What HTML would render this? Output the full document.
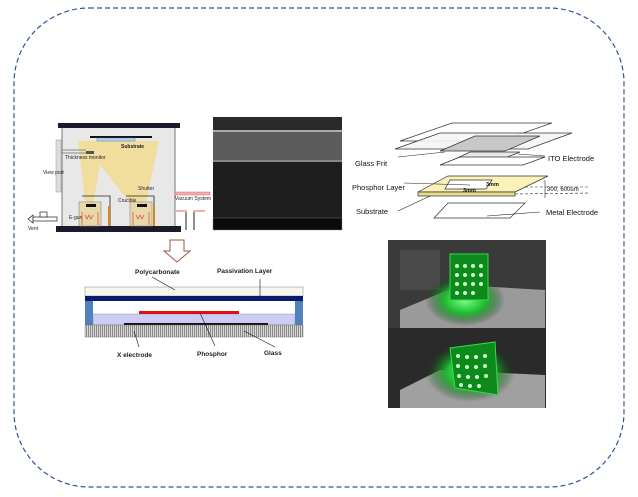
<!DOCTYPE html>
<html><head><meta charset="utf-8"><style>
html,body{margin:0;padding:0;background:#fff;width:638px;height:497px;overflow:hidden}
svg text{font-family:"Liberation Sans",sans-serif}
</style></head><body>
<svg width="638" height="497" viewBox="0 0 638 497" xmlns="http://www.w3.org/2000/svg">
<defs>
<radialGradient id="gl" cx="0.5" cy="0.5" r="0.5"><stop offset="0" stop-color="#7dff8a"/><stop offset="0.5" stop-color="#1fbf30"/><stop offset="1" stop-color="#0c3a12" stop-opacity="0"/></radialGradient>
<pattern id="hatch" width="2" height="4" patternUnits="userSpaceOnUse"><rect width="2" height="4" fill="#d8d8d8"/><rect width="1" height="4" fill="#8a8a8a"/></pattern>
</defs>
<rect x="14" y="8" width="610" height="479" rx="75" ry="75" fill="none" stroke="#2f5597" stroke-width="1.2" stroke-dasharray="5,3"/>

<!-- chamber -->
<rect x="62" y="127" width="113" height="101" fill="#e8e8e8" stroke="#777" stroke-width="1"/>
<rect x="58" y="123" width="122" height="5" fill="#1a1a2a"/>
<rect x="56" y="226" width="125" height="6" fill="#1a1a2a"/>
<polygon points="78,141 159,141 144,212 137,212 100,165 92,212 86,212" fill="#f3d98a" opacity="0.8"/>
<rect x="90" y="136" width="62" height="2" fill="#111"/>
<rect x="97" y="138" width="38" height="3" fill="#bcd4f0" stroke="#4670b0" stroke-width="0.5"/>
<rect x="86" y="151" width="8" height="3" fill="#555"/>
<line x1="60" y1="150" x2="86" y2="150" stroke="#888"/><line x1="60" y1="153" x2="86" y2="153" stroke="#888"/>
<rect x="56" y="140" width="5" height="52" fill="#ddd" stroke="#999" stroke-width="0.5"/>
<rect x="79" y="202" width="22" height="24" fill="#e9d9a8" stroke="#888" stroke-width="0.6"/>
<rect x="86" y="204" width="10" height="3" fill="#111"/>
<rect x="130" y="202" width="22" height="24" fill="#e9d9a8" stroke="#888" stroke-width="0.6"/>
<rect x="137" y="204" width="10" height="3" fill="#111"/>
<path d="M82 212 v13 M98 212 v13 M133 212 v13 M149 212 v13" stroke="#e04040" stroke-width="0.7"/>
<path d="M85 215 l2 4 l2-4 l2 4 l2-4 M136 215 l2 4 l2-4 l2 4 l2-4" stroke="#e04040" fill="none" stroke-width="0.7"/>
<path d="M82 196 h28 v30 M126 196 h28 v30" stroke="#222" fill="none" stroke-width="0.8"/>
<rect x="108" y="206" width="2" height="20" fill="#d38a20"/><rect x="153" y="206" width="2" height="20" fill="#d38a20"/>
<rect x="175" y="192" width="35" height="3" fill="#f4b0b0" stroke="#c44" stroke-width="0.4"/>
<rect x="175" y="210" width="12" height="2" fill="#f4b0b0"/><rect x="193" y="210" width="12" height="2" fill="#f4b0b0"/>
<line x1="186" y1="212" x2="186" y2="230" stroke="#222"/><line x1="194" y1="212" x2="194" y2="230" stroke="#222"/>
<path d="M28 219 l5 -4 v8 z" fill="#fff" stroke="#222" stroke-width="0.7"/>
<rect x="33" y="217" width="24" height="4" fill="#fff" stroke="#222" stroke-width="0.7"/>
<rect x="40" y="212" width="7" height="5" fill="#fff" stroke="#222" stroke-width="0.7"/>
<g font-size="5" fill="#222">
<text x="121" y="148" font-weight="bold">Substrate</text>
<text x="65" y="159">Thickness monitor</text>
<text x="43" y="174">View port</text>
<text x="138" y="190">Shutter</text>
<text x="118" y="202">Crucible</text>
<text x="69" y="219">E-gun</text>
<text x="175" y="200">Vacuum System</text>
<text x="28" y="230">Vent</text>
</g>
<!-- SEM -->
<rect x="213" y="117" width="129" height="113" fill="#1c1c1c"/>
<rect x="213" y="117" width="129" height="13" fill="#2a2a2a"/>
<rect x="213" y="130" width="129" height="30" fill="#5c5c5c"/>
<rect x="213" y="130" width="129" height="2" fill="#aaa"/>
<rect x="213" y="160" width="129" height="2" fill="#888"/>
<rect x="213" y="162" width="129" height="55" fill="#1e1e1e"/>
<rect x="213" y="218" width="129" height="12" fill="#0a0a0a" stroke="#888" stroke-width="0.4"/>

<!-- arrow -->
<polygon points="170,240 184,240 184,251 190,251 177,262 164,251 170,251" fill="#fff" stroke="#a05a40" stroke-width="1"/>
<g font-size="6.5" font-weight="bold" fill="#222">
<text x="135" y="274">Polycarbonate</text>
<text x="217" y="273">Passivation Layer</text>
<text x="117" y="357">X electrode</text>
<text x="197" y="356">Phosphor</text>
<text x="264" y="355">Glass</text>
</g>
<rect x="85" y="287" width="218" height="9" fill="#f6f6ee" stroke="#888" stroke-width="0.5"/>
<rect x="85" y="296" width="218" height="5" fill="#0a1a6e"/>
<rect x="85" y="301" width="8" height="24" fill="#4f81bd"/>
<rect x="295" y="301" width="8" height="24" fill="#4f81bd"/>
<rect x="93" y="314" width="202" height="11" fill="#ccccf5" stroke="#888" stroke-width="0.4"/>
<rect x="139" y="311" width="100" height="3" fill="#e01010"/>
<rect x="124" y="323" width="144" height="2" fill="#111"/>
<rect x="85" y="325" width="218" height="12" fill="url(#hatch)" stroke="#666" stroke-width="0.4"/>
<g stroke="#111" stroke-width="0.6" fill="none">
<path d="M175 290 L152 277"/><path d="M260 296 V279"/><path d="M134 331 L139 347"/><path d="M200 313 L215 346"/><path d="M244 331 L275 347"/>
</g>

<!-- exploded -->
<g stroke="#333" stroke-width="0.7">
<polygon points="400,141 452,123 552,123 500,141" fill="#fff"/>
<polygon points="395,149 440,133 572,133 528,149" fill="#f5f5f5" fill-opacity="0.9"/>
<polygon points="440,151 475,136 540,136 505,151" fill="#c8c8c8"/>
<polygon points="453,160 470,152 520,152 500,160" fill="#e8e8e8"/>
<polygon points="440,165 460,157 545,157 523,165" fill="#fff"/>
<polygon points="418,192 448,176 548,176 515,192" fill="#faf2b8"/>
<polygon points="418,192 515,192 515,196 418,196" fill="#e8dc90"/>
<polygon points="450,180 492,180 486,189 445,189" fill="#fff"/>
<polygon points="434,218 448,203 525,203 510,218" fill="#fff"/>
</g>
<g stroke="#222" stroke-width="0.6" fill="none">
<path d="M398 157 L445 152"/><path d="M518 154 L545 156"/><path d="M404 183 L470 185"/><path d="M398 211 L430 196"/><path d="M487 216 L540 212"/>
<path d="M525 187 L590 187" stroke-dasharray="3,2"/><path d="M515 194 L590 193" stroke-dasharray="3,2"/>
<path d="M545 180 V198"/>
</g>
<g font-size="7.5" fill="#111">
<text x="355" y="166">Glass Frit</text>
<text x="548" y="161">ITO Electrode</text>
<text x="352" y="190">Phosphor Layer</text>
<text x="356" y="214">Substrate</text>
<text x="546" y="215">Metal Electrode</text>
<text x="547" y="191" font-size="6">300, 600um</text>
<text x="486" y="186" font-size="5.5" font-weight="bold">3mm</text>
<text x="463" y="192" font-size="5.5" font-weight="bold">3mm</text>
</g>

<!-- photo -->
<rect x="388" y="240" width="158" height="168" fill="#2a2a2a"/>
<rect x="388" y="240" width="158" height="88" fill="#3a3a3a"/>
<polygon points="400,310 460,285 545,290 545,328 400,328" fill="#9a9a9a"/>
<polygon points="400,390 440,370 545,375 545,408 400,408" fill="#a0a0a0"/>
<rect x="400" y="250" width="40" height="40" fill="#555" opacity="0.6"/>
<ellipse cx="465" cy="300" rx="40" ry="26" fill="url(#gl)"/>
<rect x="450" y="254" width="38" height="46" fill="#0e8a1c" stroke="#3ada4a" stroke-width="1"/>
<ellipse cx="470" cy="372" rx="45" ry="30" fill="url(#gl)"/>
<polygon points="450,348 495,342 498,395 455,388" fill="#0e8a1c" stroke="#3ada4a" stroke-width="1"/>
<g fill="#c8ffc8">
<circle cx="457" cy="266" r="2"/><circle cx="465" cy="266" r="2"/><circle cx="473" cy="266" r="2"/><circle cx="481" cy="266" r="2"/>
<circle cx="457" cy="275" r="2"/><circle cx="465" cy="275" r="2"/><circle cx="473" cy="275" r="2"/><circle cx="481" cy="275" r="2"/>
<circle cx="457" cy="284" r="2"/><circle cx="465" cy="284" r="2"/><circle cx="473" cy="284" r="2"/><circle cx="481" cy="284" r="2"/>
<circle cx="457" cy="293" r="2"/><circle cx="465" cy="293" r="2"/><circle cx="473" cy="293" r="2"/>
<circle cx="458" cy="356" r="2"/><circle cx="467" cy="357" r="2"/><circle cx="476" cy="357" r="2"/><circle cx="485" cy="356" r="2"/>
<circle cx="458" cy="366" r="2"/><circle cx="467" cy="367" r="2"/><circle cx="476" cy="367" r="2"/><circle cx="485" cy="366" r="2"/>
<circle cx="459" cy="376" r="2"/><circle cx="468" cy="377" r="2"/><circle cx="477" cy="377" r="2"/><circle cx="486" cy="376" r="2"/>
<circle cx="461" cy="385" r="2"/><circle cx="470" cy="386" r="2"/><circle cx="479" cy="386" r="2"/>
</g>
</svg>
</body></html>
